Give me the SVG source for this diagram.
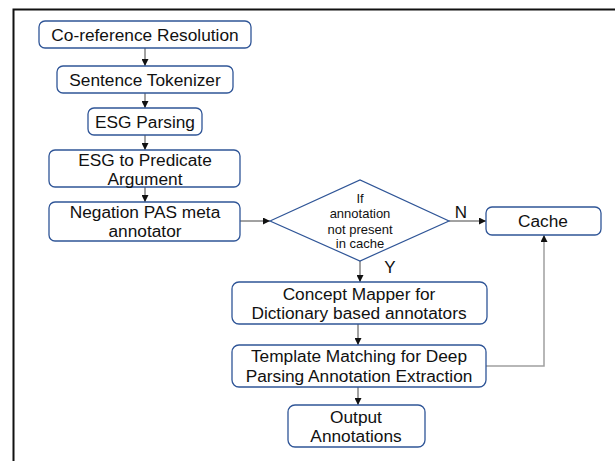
<svg xmlns="http://www.w3.org/2000/svg" width="615" height="461" viewBox="0 0 615 461">
  <style>
    .box { fill: #ffffff; stroke: #2f5597; stroke-width: 1.3; }
    .dia { fill: #ffffff; stroke: #2f5597; stroke-width: 1.2; }
    .lbl { font-family: "Liberation Sans", Arial, sans-serif; font-size: 17.3px; fill: #111111; text-anchor: middle; dominant-baseline: central; }
    .sm { font-family: "Liberation Sans", Arial, sans-serif; font-size: 13px; fill: #111111; text-anchor: middle; dominant-baseline: central; }
    .yn { font-family: "Liberation Sans", Arial, sans-serif; font-size: 17px; fill: #111111; text-anchor: middle; dominant-baseline: central; }
    .con { fill: none; stroke: #444444; stroke-width: 1; marker-end: url(#ah); }
    .back { fill: none; stroke: #a0a0a0; stroke-width: 1.5; marker-end: url(#ah); }
    .frame { fill: none; stroke: #111111; stroke-width: 2; }
  </style>
  <defs>
    <marker id="ah" viewBox="0 0 10 10" refX="10" refY="5" markerWidth="7" markerHeight="7" markerUnits="userSpaceOnUse" orient="auto">
      <path d="M0,0 L10,5 L0,10 z" fill="#111111"/>
    </marker>
  </defs>

  <rect width="615" height="461" fill="#ffffff"/>
  <!-- page frame: top and left edges -->
  <path class="frame" d="M13.5,461 V9.5 H615"/>

  <g id="connectors">
    <path class="con" d="M145,48 V66"/>
    <path class="con" d="M145,93 V108"/>
    <path class="con" d="M145,135 V150"/>
    <path class="con" d="M145,187 V202"/>
    <path class="con" d="M240,221 H270"/>
    <path class="con" d="M449,221 H486"/>
    <path class="con" d="M360,261 V282"/>
    <path class="con" d="M358,324 V345"/>
    <path class="con" d="M358,387 V405"/>
    <path class="back" d="M486,366 H544 V235"/>
    <text class="yn" x="461" y="212">N</text>
    <text class="yn" x="390" y="267">Y</text>
  </g>

  <g id="coref">
    <rect class="box" x="39" y="21" width="212" height="27" rx="6"/>
    <text class="lbl" x="145" y="35">Co-reference Resolution</text>
  </g>
  <g id="tokenizer">
    <rect class="box" x="57" y="66" width="176" height="27" rx="6"/>
    <text class="lbl" x="145" y="80">Sentence Tokenizer</text>
  </g>
  <g id="esg-parsing">
    <rect class="box" x="88" y="108" width="114" height="27" rx="6"/>
    <text class="lbl" x="145" y="122">ESG Parsing</text>
  </g>
  <g id="esg-pas">
    <rect class="box" x="49" y="150" width="191" height="37" rx="6"/>
    <text class="lbl" x="145" y="160">ESG to Predicate</text>
    <text class="lbl" x="145" y="179">Argument</text>
  </g>
  <g id="negation">
    <rect class="box" x="49" y="202" width="191" height="39" rx="6"/>
    <text class="lbl" x="145" y="212">Negation PAS meta</text>
    <text class="lbl" x="145" y="231">annotator</text>
  </g>
  <g id="cache-check">
    <polygon class="dia" points="270,221 360,180 449,221 360,261"/>
    <text class="sm" x="360" y="198">If</text>
    <text class="sm" x="360" y="213">annotation</text>
    <text class="sm" x="360" y="229">not present</text>
    <text class="sm" x="360" y="243">in cache</text>
  </g>
  <g id="cache">
    <rect class="box" x="486" y="207" width="115" height="28" rx="6"/>
    <text class="lbl" x="543" y="221">Cache</text>
  </g>
  <g id="concept-mapper">
    <rect class="box" x="232" y="282" width="255" height="42" rx="7"/>
    <text class="lbl" x="359" y="294">Concept Mapper for</text>
    <text class="lbl" x="359" y="313">Dictionary based annotators</text>
  </g>
  <g id="template-matching">
    <rect class="box" x="232" y="345" width="254" height="42" rx="7"/>
    <text class="lbl" x="359" y="356">Template Matching for Deep</text>
    <text class="lbl" x="359" y="376">Parsing Annotation Extraction</text>
  </g>
  <g id="output">
    <rect class="box" x="288" y="405" width="137" height="42" rx="7"/>
    <text class="lbl" x="356" y="417">Output</text>
    <text class="lbl" x="356" y="436">Annotations</text>
  </g>
</svg>
